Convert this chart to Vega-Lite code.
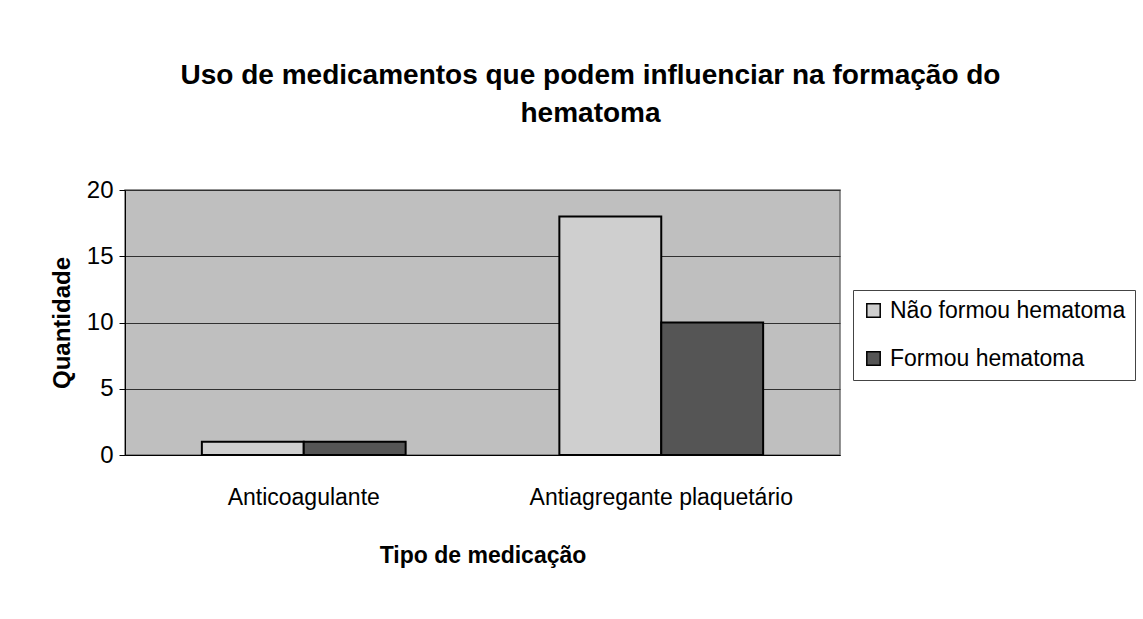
{
  "$schema": "https://vega.github.io/schema/vega-lite/v6.json",
  "autosize": "none",
  "width": 715,
  "height": 265,
  "padding": {"left": 125, "top": 190, "right": 303, "bottom": 164},
  "background": "white",
  "title": {
    "text": ["Uso de medicamentos que podem influenciar na formação do", "hematoma"],
    "font": "Liberation Sans",
    "fontSize": 28,
    "fontWeight": "bold",
    "lineHeight": 38,
    "color": "black",
    "anchor": "middle",
    "dx": 108,
    "offset": 50
  },
  "data": {
    "values": [
      {"tipo": "Anticoagulante", "grupo": "Não formou hematoma", "quantidade": 1},
      {"tipo": "Anticoagulante", "grupo": "Formou hematoma", "quantidade": 1},
      {"tipo": "Antiagregante plaquetário", "grupo": "Não formou hematoma", "quantidade": 18},
      {"tipo": "Antiagregante plaquetário", "grupo": "Formou hematoma", "quantidade": 10}
    ]
  },
  "mark": {"type": "bar", "stroke": "black", "strokeWidth": 2},
  "encoding": {
    "x": {
      "field": "tipo",
      "type": "nominal",
      "sort": ["Anticoagulante", "Antiagregante plaquetário"],
      "scale": {"paddingInner": 0.43, "paddingOuter": 0.215},
      "axis": {
        "title": "Tipo de medicação",
        "labelAngle": 0,
        "labelFont": "Liberation Sans",
        "labelFontSize": 23,
        "labelColor": "black",
        "labelPadding": 31,
        "labelLimit": 400,
        "ticks": false,
        "domainColor": "black",
        "titleFont": "Liberation Sans",
        "titleFontSize": 23,
        "titleFontWeight": "bold",
        "titleColor": "black",
        "titlePadding": 35
      }
    },
    "xOffset": {"field": "grupo", "type": "nominal", "sort": ["Não formou hematoma", "Formou hematoma"]},
    "y": {
      "field": "quantidade",
      "type": "quantitative",
      "scale": {"domain": [0, 20]},
      "axis": {
        "title": "Quantidade",
        "values": [0, 5, 10, 15, 20],
        "labelFont": "Liberation Sans",
        "labelFontSize": 24,
        "labelColor": "black",
        "labelPadding": 6,
        "tickSize": 6,
        "tickColor": "black",
        "domainColor": "black",
        "gridColor": "#303030",
        "gridWidth": 1,
        "titleFont": "Liberation Sans",
        "titleFontSize": 24,
        "titleFontWeight": "bold",
        "titleColor": "black",
        "titlePadding": 12
      }
    },
    "color": {
      "field": "grupo",
      "type": "nominal",
      "sort": ["Não formou hematoma", "Formou hematoma"],
      "scale": {"domain": ["Não formou hematoma", "Formou hematoma"], "range": ["#cfcfcf", "#555555"]},
      "legend": {
        "title": null,
        "orient": "none",
        "legendX": 728,
        "legendY": 100,
        "labelFont": "Liberation Sans",
        "labelFontSize": 23,
        "labelColor": "black",
        "labelLimit": 400,
        "labelOffset": 5,
        "symbolType": "square",
        "symbolSize": 180,
        "symbolStrokeColor": "black",
        "symbolStrokeWidth": 1.5,
        "rowPadding": 24,
        "padding": 9,
        "strokeColor": "#444444",
        "fillColor": "white"
      }
    }
  },
  "config": {
    "view": {"fill": "#bfbfbf", "stroke": "#707070", "strokeWidth": 1.5}
  }
}
